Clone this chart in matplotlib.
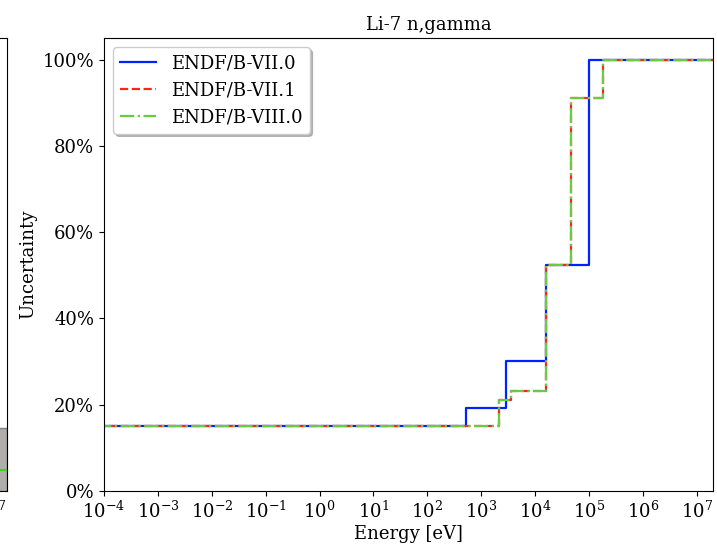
import numpy as np
import matplotlib
matplotlib.use("Agg")
import matplotlib.pyplot as plt
from matplotlib.ticker import PercentFormatter

plt.rcParams['font.family'] = 'DejaVu Serif'
plt.rcParams['mathtext.fontset'] = 'dejavuserif'

# step data (energy in eV, uncertainty as fraction)
e_vii0 = [1e-5, 530, 2900, 1.6e4, 1.0e5, 2e7]
u_vii0 = [0.15, 0.192, 0.302, 0.523, 1.0, 1.0]

e_vii1 = [1e-5, 2100, 3500, 1.6e4, 4.6e4, 1.85e5, 2e7]
u_vii1 = [0.15, 0.211, 0.232, 0.523, 0.91, 1.0, 1.0]

e_viii0 = [1e-5, 2100, 3500, 1.6e4, 4.6e4, 1.85e5, 2e7]
u_viii0 = [0.15, 0.211, 0.232, 0.523, 0.91, 1.0, 1.0]

labels = ['ENDF/B-VII.0', 'ENDF/B-VII.1', 'ENDF/B-VIII.0']

# what is visible of the neighbouring panel on the left
left_band_top = 0.146
left_line_val = 0.049

fig = plt.figure(figsize=(7.17, 5.48), dpi=100)
pos_y = 1 - 491 / 548
pos_h = (491 - 38) / 548
pos_w = 609 / 717

# cut-off neighbour panel
ax0 = fig.add_axes([6.5 / 717 - pos_w, pos_y, pos_w, pos_h])
ax0.set_xscale('log')
ax0.set_xlim(1e-4, 2e7)
ax0.set_ylim(0, 1.05)
ax0.axhspan(0, left_band_top, facecolor='#aaa4a4', edgecolor='#777777', alpha=0.9)
ax0.axhline(left_line_val, color='#44cc22', lw=1.5)
ax0.set_xticks([10.0 ** k for k in range(-4, 8)])
ax0.set_yticks([])
ax0.tick_params(labelsize=13)

ax = fig.add_axes([104 / 717, pos_y, pos_w, pos_h])
ax.step(e_vii0, u_vii0, where='post', color='#0022ff', lw=1.6, ls='-', label=labels[0])
ax.step(e_vii1, u_vii1, where='post', color='#ff2222', lw=1.6, ls='--', label=labels[1])
ax.step(e_viii0, u_viii0, where='post', color='#66cc44', lw=1.6, ls='-.', label=labels[2])

ax.set_xscale('log')
ax.set_xlim(1e-4, 2e7)
ax.set_ylim(0, 1.05)
ax.set_xticks([10.0 ** k for k in range(-4, 8)])
ax.set_yticks([0, 0.2, 0.4, 0.6, 0.8, 1.0])
ax.yaxis.set_major_formatter(PercentFormatter(1.0, decimals=0))
ax.tick_params(labelsize=13)
ax.set_xlabel('Energy [eV]', fontsize=13, labelpad=2)
ax.set_ylabel('Uncertainty', fontsize=13)
ax.set_title('Li-7 n,gamma', fontsize=13, x=0.534)
ax.legend(loc='upper left', fontsize=13, shadow={'color': '0.55', 'alpha': 0.6},
          fancybox=True, handlelength=2.0, borderpad=0.4, labelspacing=0.5)

fig.savefig('out.png', dpi=100)
